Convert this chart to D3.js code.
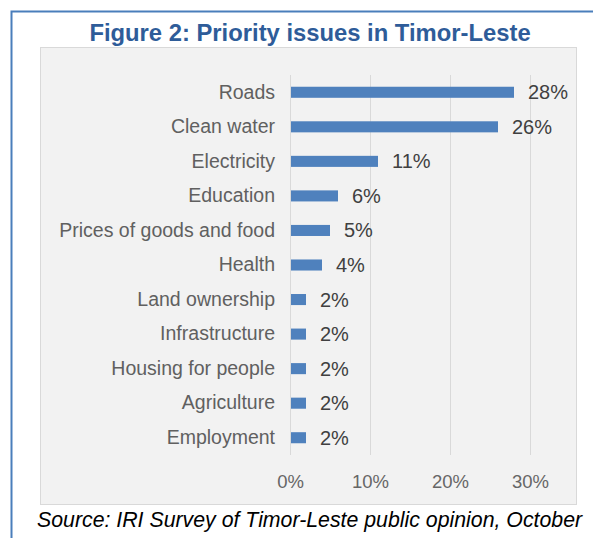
<!DOCTYPE html>
<html><head><meta charset="utf-8">
<script src="https://cdn.jsdelivr.net/npm/d3@7"></script>
<style>body{margin:0;background:#fff}svg{display:block}</style>
</head><body>
<svg id="c" width="593" height="538"></svg>
<script>
const categories = ["Roads","Clean water","Electricity","Education","Prices of goods and food","Health","Land ownership","Infrastructure","Housing for people","Agriculture","Employment"];
const values = [28,26,11,6,5,4,2,2,2,2,2];
const ticks = [0,10,20,30];
const title = "Figure 2: Priority issues in Timor-Leste";
const source = "Source: IRI Survey of Timor-Leste public opinion, October";

const svg = d3.select("#c");
const font = "'Liberation Sans', Arial, sans-serif";

// outer frame (blue)
svg.append("path").attr("d","M11.5,538 V11.5 H593").attr("fill","none").attr("stroke","#4a7ebb").attr("stroke-width",2);

svg.append("text").attr("x",310).attr("y",41).attr("text-anchor","middle")
  .attr("font-family",font).attr("font-weight","bold").attr("font-size",23.8).attr("fill","#2e5c99").text(title);

// panel
svg.append("rect").attr("x",40.5).attr("y",47.5).attr("width",536).attr("height",457)
  .attr("fill","#f2f2f2").attr("stroke","#d9d9d9");

const x = d3.scaleLinear().domain([0,30]).range([290,530]);
const y = d3.scaleBand().domain(categories).range([75,455]).paddingInner(0.68).paddingOuter(0.34);

// gridlines
svg.append("g").selectAll("line").data(ticks).join("line")
  .attr("x1",d=>x(d)).attr("x2",d=>x(d)).attr("y1",75).attr("y2",455)
  .attr("stroke","#d9d9d9").attr("stroke-width",1)
  .attr("transform","translate(0.5,0)");

// x axis labels
const xa = svg.append("g").attr("transform","translate(0,455)")
  .call(d3.axisBottom(x).tickValues(ticks).tickFormat(d=>d+"%").tickSize(0).tickPadding(20));
xa.select(".domain").remove();
xa.selectAll("text").attr("font-family",font).attr("font-size",18.5).attr("fill","#666666");

// y axis labels
const ya = svg.append("g").attr("transform","translate(290,0)")
  .call(d3.axisLeft(y).tickSize(0).tickPadding(15));
ya.select(".domain").remove();
ya.selectAll("text").attr("font-family",font).attr("font-size",19.5).attr("fill","#606060");

// bars
svg.append("g").selectAll("rect").data(values).join("rect")
  .attr("x",x(0)+1).attr("y",(d,i)=>y(categories[i]))
  .attr("width",d=>x(d)-x(0)-1).attr("height",y.bandwidth())
  .attr("fill","#4f81bd");

// value labels
svg.append("g").selectAll("text").data(values).join("text")
  .attr("x",d=>x(d)+14).attr("y",(d,i)=>y(categories[i])+y.bandwidth()/2)
  .attr("dy","0.35em").attr("font-family",font).attr("font-size",20).attr("fill","#404040")
  .text(d=>d+"%");

svg.append("text").attr("x",37).attr("y",527)
  .attr("font-family",font).attr("font-style","italic").attr("font-size",21.3).attr("fill","#000").text(source);
</script>
</body></html>
